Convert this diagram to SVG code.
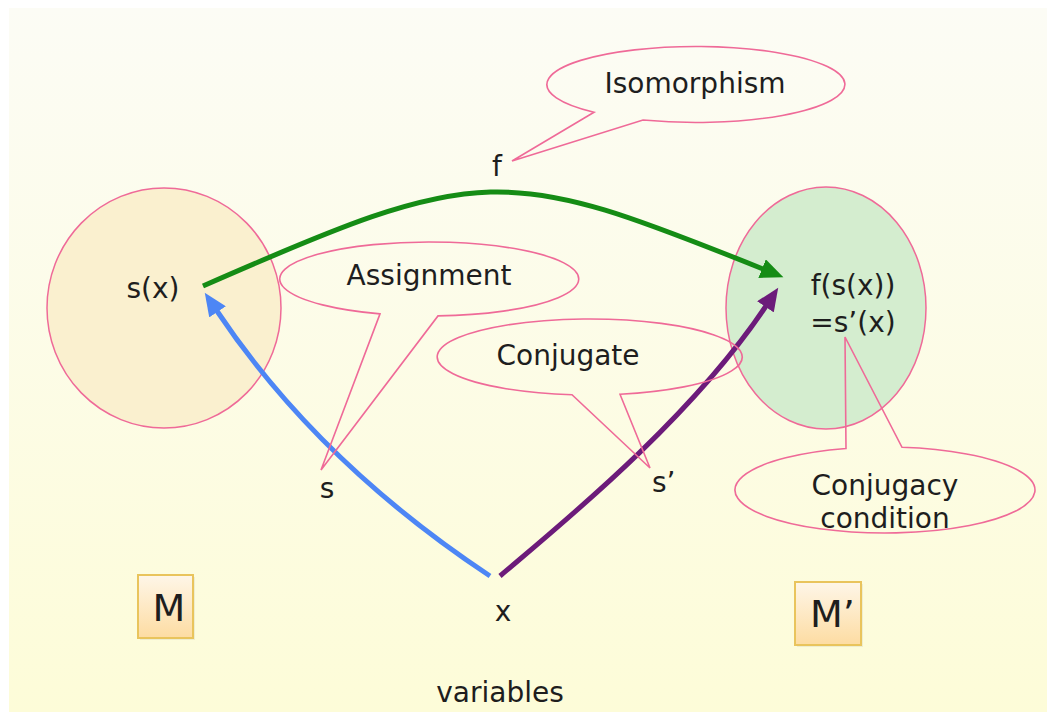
<svg xmlns="http://www.w3.org/2000/svg" width="1047" height="712" viewBox="0 0 1047 712">
<defs>
<linearGradient id="bg" x1="0" y1="0" x2="0" y2="1">
<stop offset="0" stop-color="#fcfcf5"/>
<stop offset="1" stop-color="#fdfcd8"/>
</linearGradient>
<linearGradient id="box" x1="0" y1="0" x2="0" y2="1">
<stop offset="0" stop-color="#fef6e8"/>
<stop offset="1" stop-color="#fddca2"/>
</linearGradient>
<marker id="ag" markerUnits="userSpaceOnUse" markerWidth="24" markerHeight="20" refX="1" refY="10" orient="auto"><path d="M0,0 L23,10 L0,20 Z" fill="#158c15"/></marker>
<marker id="ab" markerUnits="userSpaceOnUse" markerWidth="24" markerHeight="20" refX="1" refY="10" orient="auto"><path d="M0,0 L23,10 L0,20 Z" fill="#4d86f5"/></marker>
<marker id="ap" markerUnits="userSpaceOnUse" markerWidth="24" markerHeight="20" refX="1" refY="10" orient="auto"><path d="M0,0 L23,10 L0,20 Z" fill="#6c1b7a"/></marker>
<style>
text{font-family:"DejaVu Sans","Verdana",sans-serif;font-size:28px;fill:#1e1e1e}
.c{text-anchor:middle}
.big{font-size:38px}
.callout{fill:none;stroke:#ef6a98;stroke-width:1.6;stroke-linejoin:miter}
.node{stroke:#ef6a98;stroke-width:1.5}
.conn{fill:none;stroke-width:5}
.mbox{fill:url(#box);stroke:#e9c45c;stroke-width:2}
</style>
</defs>
<rect x="9" y="8" width="1038" height="704" fill="url(#bg)"/>

<g id="node-M">
<ellipse class="node" cx="164" cy="308" rx="117" ry="120" fill="#faf0cf"/>
<text class="c" x="153" y="298">s(x)</text>
</g>
<g id="node-Mprime">
<ellipse class="node" cx="826" cy="308" rx="100" ry="121" fill="#d4edcf"/>
<text class="c" x="853" y="295">f(s(x))</text>
<text class="c" x="853" y="332">=s’(x)</text>
</g>

<g id="connectors">
<path class="conn" d="M203,286 C483,163 503,164 763,269" stroke="#158c15" marker-end="url(#ag)"/>
<path class="conn" d="M490,576 Q318,462 217,311" stroke="#4d86f5" marker-end="url(#ab)"/>
<path class="conn" d="M500,576 C560,525 690,420 766,306" stroke="#6c1b7a" marker-end="url(#ap)"/>
</g>

<g id="callout-isomorphism">
<path class="callout" d="M643,120 A149 38 0 1 0 594,112.2 L512,161 Z"/>
<text class="c" x="695" y="93">Isomorphism</text>
</g>
<g id="callout-assignment">
<path class="callout" d="M438,315.9 A149.5 37 0 1 0 380,313.9 L321,470 Z"/>
<text class="c" x="429" y="285">Assignment</text>
</g>
<g id="callout-conjugate">
<path class="callout" d="M620,394.2 A152.5 38 0 1 0 572,394.7 L650,468 Z"/>
<text class="c" x="568" y="365">Conjugate</text>
</g>
<g id="callout-conjugacy">
<path class="callout" d="M846,448.5 A150 43 0 1 0 902,447.3 L845,337 Z"/>
<text class="c" x="885" y="495">Conjugacy</text>
<text class="c" x="885" y="528">condition</text>
</g>

<g id="label-f"><text class="c" x="497" y="176">f</text></g>
<g id="label-s"><text class="c" x="327" y="498">s</text></g>
<g id="label-sprime"><text x="652" y="492">s’</text></g>
<g id="label-x"><text class="c" x="503" y="621">x</text></g>
<g id="label-variables"><text class="c" x="500" y="702">variables</text></g>

<g id="box-M">
<rect x="140" y="577" width="55" height="63" fill="#000" opacity="0.06"/>
<rect class="mbox" x="138" y="575" width="55" height="63"/>
<text class="c big" x="169" y="621">M</text>
</g>
<g id="box-Mprime">
<rect x="797" y="584" width="66" height="63" fill="#000" opacity="0.06"/>
<rect class="mbox" x="795" y="582" width="66" height="63"/>
<text class="big" x="810" y="627">M’</text>
</g>
</svg>
